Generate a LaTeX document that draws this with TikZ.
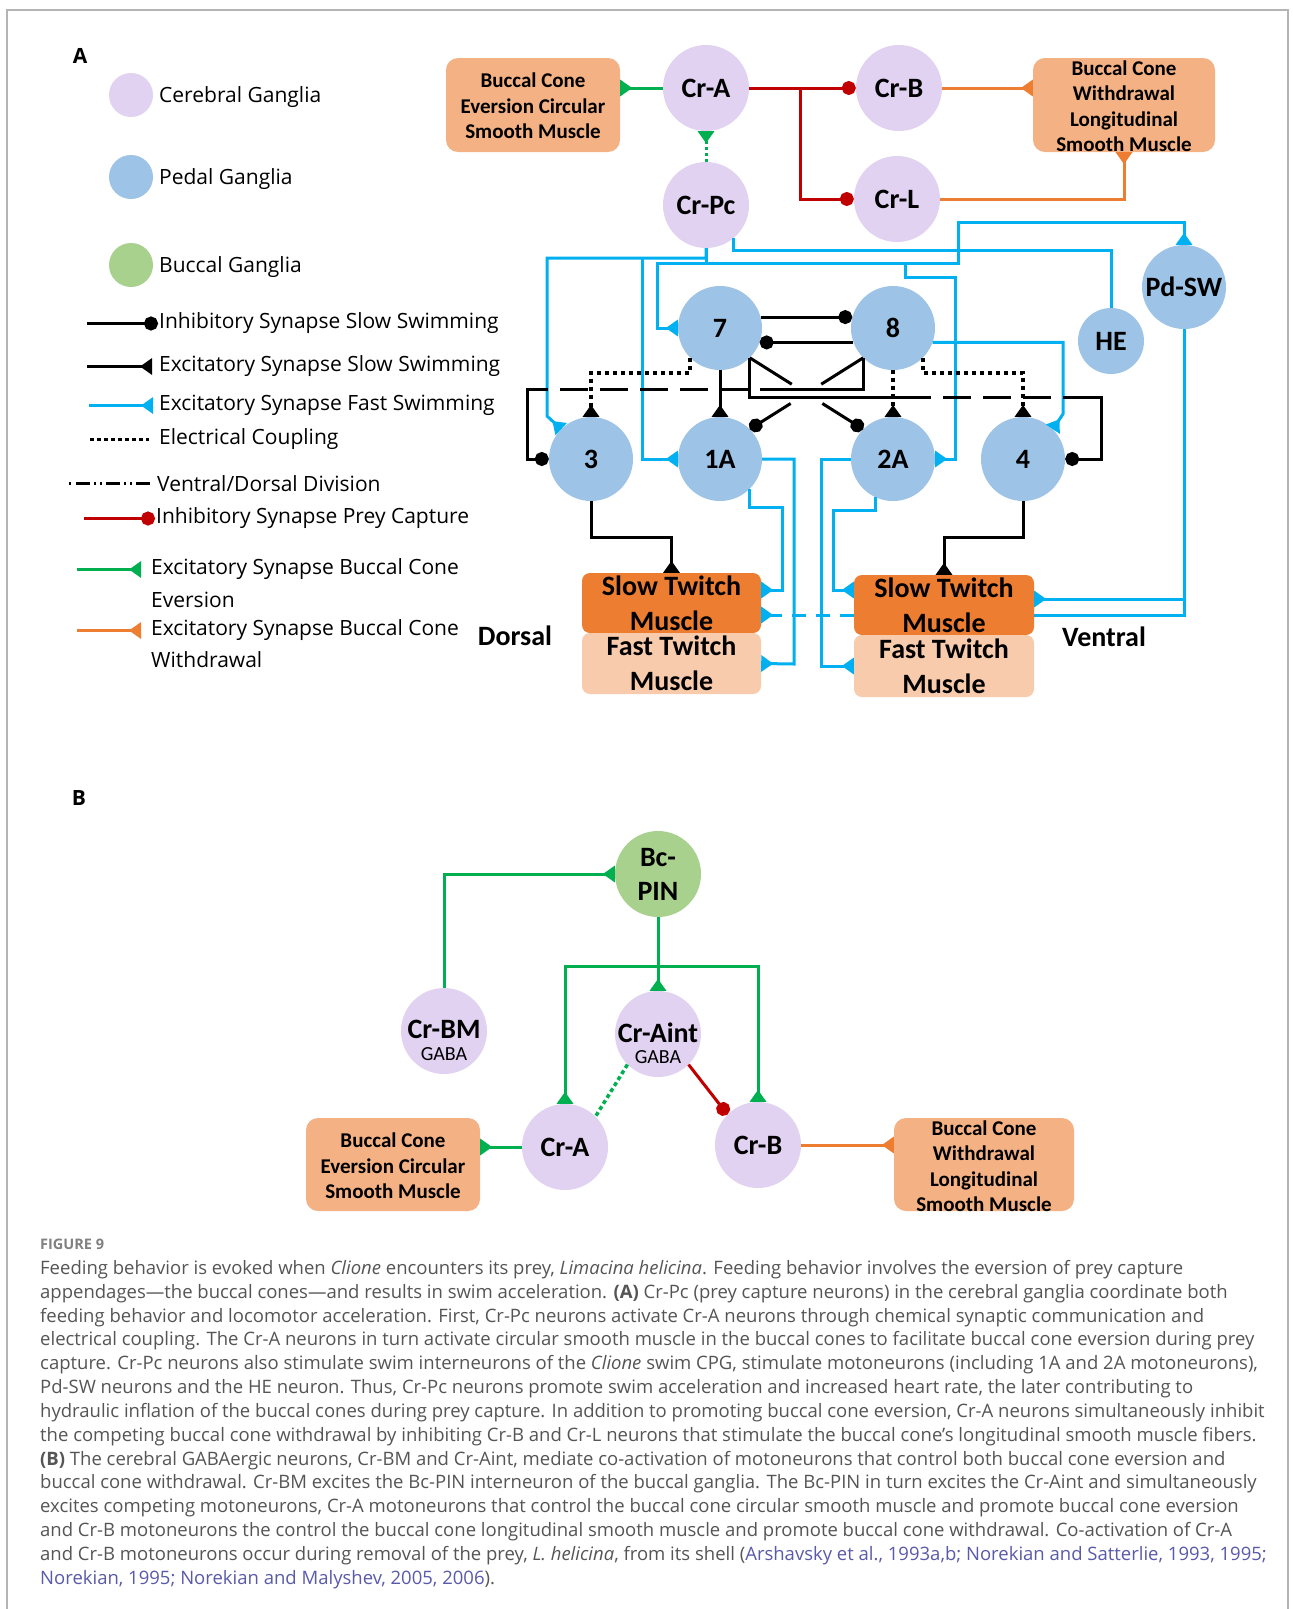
\documentclass[tikz,border=0pt]{standalone}
\usepackage{fontspec}
\setmainfont{Carlito}
\newfontfamily\osans{Open Sans}
\usetikzlibrary{arrows.meta,calc}

\definecolor{cerC}{HTML}{E1D2F1}
\definecolor{pedC}{HTML}{9DC3E6}
\definecolor{bucC}{HTML}{A9D18E}
\definecolor{cyanL}{HTML}{00B0F0}
\definecolor{greenL}{HTML}{00B050}
\definecolor{redL}{HTML}{C00000}
\definecolor{orangeL}{HTML}{ED7D31}
\definecolor{peachB}{HTML}{F4B183}
\definecolor{slowB}{HTML}{ED7D31}
\definecolor{fastB}{HTML}{F8CBAD}
\definecolor{capG}{HTML}{555555}
\definecolor{citeC}{HTML}{5A5AAA}
\definecolor{frameG}{HTML}{B4B4B4}

\begin{document}
\begin{tikzpicture}[x=1pt,y=-1pt,
  neuron/.style={circle, inner sep=0pt, minimum size=86pt, align=center,
    font=\fontsize{28}{34}\selectfont\bfseries},
  cer/.style={neuron, fill=cerC},
  ped/.style={neuron, fill=pedC, minimum size=84pt},
  buc/.style={neuron, fill=bucC},
  musbox/.style={rounded corners=12pt, fill=peachB, inner sep=0pt},
  boxtext/.style={align=center, inner sep=0pt, font=\fontsize{21}{25.5}\selectfont\bfseries},
  twitch/.style={rounded corners=8pt, inner sep=0pt, align=center,
    font=\fontsize{28}{35}\selectfont\bfseries},
  side/.style={inner sep=0pt, font=\fontsize{28}{30}\selectfont\bfseries},
  conn/.style={line width=3pt},
  exc/.style={-{Triangle[reversed,length=12pt,width=16pt]}},
  inh/.style={-{Circle[length=14pt]}},
  blk/.style={conn, draw=black},
  cy/.style={conn, draw=cyanL},
  grn/.style={conn, draw=greenL},
  rd/.style={conn, draw=redL},
  orn/.style={conn, draw=orangeL},
  elec/.style={line width=3.5pt, dash pattern=on 4pt off 4pt},
  gdots/.style={dash pattern=on 3pt off 3pt},
  divdash/.style={dash pattern=on 28pt off 12pt},
  legdot/.style={circle, inner sep=0pt, minimum size=44pt},
  legtext/.style={anchor=west, inner sep=0pt, yshift=-2.5pt, font=\osans\fontsize{21}{29}\selectfont},
  panel/.style={inner sep=0pt, font=\osans\bfseries\fontsize{21}{24}\selectfont}
]
\useasboundingbox (0,0) rectangle (1293,1609);
\fill[white] (0,0) rectangle (1293,1609);
\draw[frameG, line width=1.5pt] (7,1609) -- (7,10) -- (1288,10) -- (1288,1609);

% ---------------- panel A : legend ----------------
\node[panel] (labA) at (80,56) {A};

\node[legdot, fill=cerC] (lgCerD) at (131,95) {};
\node[legtext] (lgCer) at (159,95) {Cerebral Ganglia};
\node[legdot, fill=pedC] (lgPedD) at (131,177) {};
\node[legtext] (lgPed) at (159,177) {Pedal Ganglia};
\node[legdot, fill=bucC] (lgBucD) at (131,265) {};
\node[legtext] (lgBuc) at (159,265) {Buccal Ganglia};

\node[legtext] (lgInhS) at (159,321) {Inhibitory Synapse Slow Swimming};
\draw[blk, inh] ([xshift=-72pt]lgInhS.west) -- ([xshift=-1pt]lgInhS.west);
\node[legtext] (lgExcS) at (159,364) {Excitatory Synapse Slow Swimming};
\draw[blk, exc] ([xshift=-72pt]lgExcS.west) -- ([xshift=-7pt]lgExcS.west);
\node[legtext] (lgExcF) at (159,403) {Excitatory Synapse Fast Swimming};
\draw[cy, exc] ([xshift=-70pt]lgExcF.west) -- ([xshift=-6pt]lgExcF.west);
\node[legtext] (lgElec) at (159,437) {Electrical Coupling};
\draw[black, line width=3pt, dash pattern=on 3.5pt off 3.5pt] ([xshift=-69pt]lgElec.west) -- ([xshift=-10pt]lgElec.west);
\node[legtext] (lgDiv) at (157,481) {Ventral/Dorsal Division};
\draw[black, line width=2.2pt, dash pattern=on 2pt off 5pt on 14pt off 4pt on 2pt off 4pt on 2pt off 4pt on 14pt off 4pt on 2pt off 4pt on 2pt off 4pt on 14pt off 20pt]
  ([xshift=-88pt]lgDiv.west) -- ([xshift=-3pt]lgDiv.west);
\node[legtext] (lgInhP) at (156,516) {Inhibitory Synapse Prey Capture};
\draw[rd, inh] ([xshift=-72pt]lgInhP.west) -- ([xshift=-1pt]lgInhP.west);
\node[legtext] (lgEv) at (151,567) {Excitatory Synapse Buccal Cone};
\node[legtext] (lgEv2) at (151,597) {Eversion};
\draw[grn, exc] ([xshift=-74pt]lgEv.west) -- ([xshift=-10pt]lgEv.west);
\node[legtext] (lgWd) at (151,628) {Excitatory Synapse Buccal Cone};
\node[legtext] (lgWd2) at (151,657) {Withdrawal};
\draw[orn, exc] ([xshift=-74pt]lgWd.west) -- ([xshift=-10pt]lgWd.west);

% ---------------- panel A : network ----------------
\node[musbox, minimum width=174pt, minimum height=94pt] (evA) at (533,105) {};
\node[boxtext] (evAt) at (533,106) {Buccal Cone\\Eversion Circular\\Smooth Muscle};
\node[musbox, minimum width=182pt, minimum height=94pt] (wdA) at (1124,105) {};
\node[boxtext] (wdAt) at (1124,106) {Buccal Cone\\Withdrawal\\Longitudinal\\Smooth Muscle};

\node[cer] (crA) at (706,88) {Cr-A};
\node[cer] (crPc) at (706,205) {Cr-Pc};
\node[cer] (crB) at (899,88) {Cr-B};
\node[cer] (crL) at (897,199) {Cr-L};
\node[ped] (pdsw) at (1184,287) {Pd-SW};
\node[ped, minimum size=66pt] (he) at (1111,341) {HE};
\node[ped] (n7) at (720,328) {7};
\node[ped] (n8) at (893,328) {8};
\node[ped] (n3) at (591,459) {3};
\node[ped] (n1a) at (720,459) {1A};
\node[ped] (n2a) at (893,459) {2A};
\node[ped] (n4) at (1023,459) {4};

\node[twitch, fill=slowB, minimum width=179pt, minimum height=60pt] (dSlow) at (671.5,603) {Slow Twitch\\Muscle};
\node[twitch, fill=fastB, minimum width=179pt, minimum height=61pt] (dFast) at (671.5,663.5) {Fast Twitch\\Muscle};
\node[twitch, fill=slowB, minimum width=180pt, minimum height=60pt] (vSlow) at (944,605) {Slow Twitch\\Muscle};
\node[twitch, fill=fastB, minimum width=180pt, minimum height=62pt] (vFast) at (944,666) {Fast Twitch\\Muscle};
\node[side] (dorsal) at (515,636) {Dorsal};
\node[side] (ventral) at (1104,637) {Ventral};

% prey capture: Cr-A inhibits the withdrawal motoneurons
\coordinate (rj) at (800,88);
\draw[rd, inh] (crA.east) -- (crB.west);
\draw[rd, inh] (rj) |- (crL.west);
\draw[grn, exc] (crA.west) -- (crA.west -| evA.east);
\draw[grn, gdots, exc] (crPc.north) -- (crA.south);
\draw[orn, exc] (crB.east) -- (crB.east -| wdA.west);
\draw[orn, exc] (crL.east) -| (wdA.south);

% Cr-Pc outputs (fast swimming)
\coordinate (pcL) at (706,258);
\coordinate (pcL1) at (642,258);
\coordinate (pcM) at (706,263);
\coordinate (pcR) at (905,263);
\draw[cy, exc] (crPc.south) -- (pcL) -- (547,258) -- (547,416) -- (n3.135);
\draw[cy, exc] (pcL1) |- (n1a.west);
\draw[cy] (crPc.south) -- (pcM);
\draw[cy, exc] (pcM) -- (657,263) |- (n7.west);
\draw[cy, exc] (pcM) -- (pcR) -- (905,277) -- (955,277) |- (n2a.east);
\draw[cy, exc] (pcR) -- (958,263) -- (958,222) -| (pdsw.north);
\draw[cy] (crPc.-50) -- ++(0,12) -| (he.north);
\draw[cy, exc] (n8.-20) -| (1063,414) -- (n4.45);

% Pd-SW to slow twitch muscles
\draw[cy, exc] (pdsw.south) |- ([yshift=6pt]vSlow.east);
\draw[cy] (pdsw.south) |- ([yshift=-10pt]vSlow.east);
\draw[cy, dash pattern=on 14pt off 10pt, exc] ([yshift=-10pt]vSlow.west) -- ([yshift=-12pt]dSlow.east);

% motoneurons to muscles
\draw[cy, exc] (n1a.-45) -- ++(0,19) -| (782,590) -- ([yshift=13pt]dSlow.east);
\draw[cy, exc] (n1a.east) -| (794,664) -- (dFast.east);
\draw[cy, exc] (n2a.-115) -- ++(0,13) -| (833,590) -- ([yshift=15pt]vSlow.west);
\draw[cy, exc] (n2a.west) -| (821,666) -- (vFast.west);
\draw[blk, exc] (n3.south) -- ++(0,36) -| (dSlow.north);
\draw[blk, exc] (n4.south) -- ++(0,36) -| (vSlow.north);

% slow swimming interneurons 7 and 8
\draw[blk, inh] (n7.15) -- (n8.165);
\draw[blk, inh] (n8.200) -- (n7.-20);
\draw[blk, exc] (n7.south) -- (n1a.north);
\draw[blk, elec, exc] (n7.-135) -- ++(0,15) -| (n3.north);
\draw[blk, elec, exc] (n8.south) -- (n2a.north);
\draw[blk, elec, exc] (n8.-45) -- ++(0,15) -| (n4.north);

\draw[blk] (n7.-45) -- ($(n7.-45)!0.37!(n2a.135)$);
\draw[blk, inh] ($(n7.-45)!0.64!(n2a.135)$) -- (n2a.135);
\draw[blk] (n8.-135) -- ($(n8.-135)!0.37!(n1a.45)$);
\draw[blk, inh] ($(n8.-135)!0.64!(n1a.45)$) -- (n1a.45);

% 7 -> 4 along the ventral/dorsal division
\draw[blk] (n7.-45) |- (903,397);
\draw[blk, divdash] (903,397) -- (1088,397);
\draw[blk, inh] (1088,397) -- (1101,397) |- (n4.east);
% 8 -> 3 along the ventral/dorsal division
\draw[blk] (n8.-135) |- (760,389);
\draw[blk, divdash] (748,389) -- (540,389);
\draw[blk, inh] (540,389) -- (527,389) |- (n3.west);

% ---------------- panel B ----------------
\node[panel] (labB) at (79,798) {B};

\node[buc] (bcpin) at (658,874) {Bc-\\PIN};
\node[cer] (crbm) at (444,1031) {};
\node[align=center, inner sep=0pt, font=\fontsize{28}{22}\selectfont\bfseries] (crbmT) at (444,1040)
  {Cr-BM\\\mdseries\fontsize{20}{22}\selectfont GABA};
\node[cer] (craint) at (658,1034) {};
\node[align=center, inner sep=0pt, font=\fontsize{28}{21}\selectfont\bfseries] (craintT) at (658,1043)
  {Cr-Aint\\\mdseries\fontsize{20}{21}\selectfont GABA};
\node[cer] (crab) at (565,1147) {Cr-A};
\node[cer] (crbb) at (758,1145) {Cr-B};

\node[musbox, minimum width=174pt, minimum height=93pt] (evB) at (393,1164.5) {};
\node[boxtext] (evBt) at (393,1166) {Buccal Cone\\Eversion Circular\\Smooth Muscle};
\node[musbox, minimum width=180pt, minimum height=93pt] (wdB) at (984,1164.5) {};
\node[boxtext] (wdBt) at (984,1166) {Buccal Cone\\Withdrawal\\Longitudinal\\Smooth Muscle};

\coordinate (bj) at (658,966);
\draw[grn, exc] (crbm.north) |- (bcpin.west);
\draw[grn, exc] (bcpin.south) -- (craint.north);
\draw[grn, exc] (bj) -| (crab.north);
\draw[grn, exc] (bj) -| (crbb.north);
\draw[greenL, line width=3.5pt, dash pattern=on 4pt off 3pt] (craint.-135) -- (crab.45);
\draw[rd, inh] (craint.-45) -- (crbb.135);
\draw[grn, exc] (crab.west) -- (crab.west -| evB.east);
\draw[orn, exc] (crbb.east) -- (crbb.east -| wdB.west);

% ---------------- caption ----------------
\node[anchor=west, inner sep=0pt, text=gray, font=\osans\bfseries\fontsize{14.5}{16}\selectfont] (figlab) at (40,1244) {FIGURE 9};
\node[anchor=north west, inner sep=0pt, align=left, text=capG, font=\osans\fontsize{18.5}{23.84}\selectfont] (caption) at (40,1260) {%
Feeding behavior is evoked when \textit{Clione} encounters its prey, \textit{Limacina helicina}. Feeding behavior involves the eversion of prey capture\\
appendages—the buccal cones—and results in swim acceleration. \textbf{(A)} Cr-Pc (prey capture neurons) in the cerebral ganglia coordinate both\\
feeding behavior and locomotor acceleration. First, Cr-Pc neurons activate Cr-A neurons through chemical synaptic communication and\\
electrical coupling. The Cr-A neurons in turn activate circular smooth muscle in the buccal cones to facilitate buccal cone eversion during prey\\
capture. Cr-Pc neurons also stimulate swim interneurons of the \textit{Clione} swim CPG, stimulate motoneurons (including 1A and 2A motoneurons),\\
Pd-SW neurons and the HE neuron. Thus, Cr-Pc neurons promote swim acceleration and increased heart rate, the later contributing to\\
hydraulic inflation of the buccal cones during prey capture. In addition to promoting buccal cone eversion, Cr-A neurons simultaneously inhibit\\
the competing buccal cone withdrawal by inhibiting Cr-B and Cr-L neurons that stimulate the buccal cone’s longitudinal smooth muscle fibers.\\
\textbf{(B)} The cerebral GABAergic neurons, Cr-BM and Cr-Aint, mediate co-activation of motoneurons that control both buccal cone eversion and\\
buccal cone withdrawal. Cr-BM excites the Bc-PIN interneuron of the buccal ganglia. The Bc-PIN in turn excites the Cr-Aint and simultaneously\\
excites competing motoneurons, Cr-A motoneurons that control the buccal cone circular smooth muscle and promote buccal cone eversion\\
and Cr-B motoneurons the control the buccal cone longitudinal smooth muscle and promote buccal cone withdrawal. Co-activation of Cr-A\\
and Cr-B motoneurons occur during removal of the prey, \textit{L. helicina}, from its shell ({\color{citeC}Arshavsky et al., 1993a,b; Norekian and Satterlie, 1993, 1995;}\\
{\color{citeC}Norekian, 1995; Norekian and Malyshev, 2005, 2006}).};
\end{tikzpicture}
\end{document}
